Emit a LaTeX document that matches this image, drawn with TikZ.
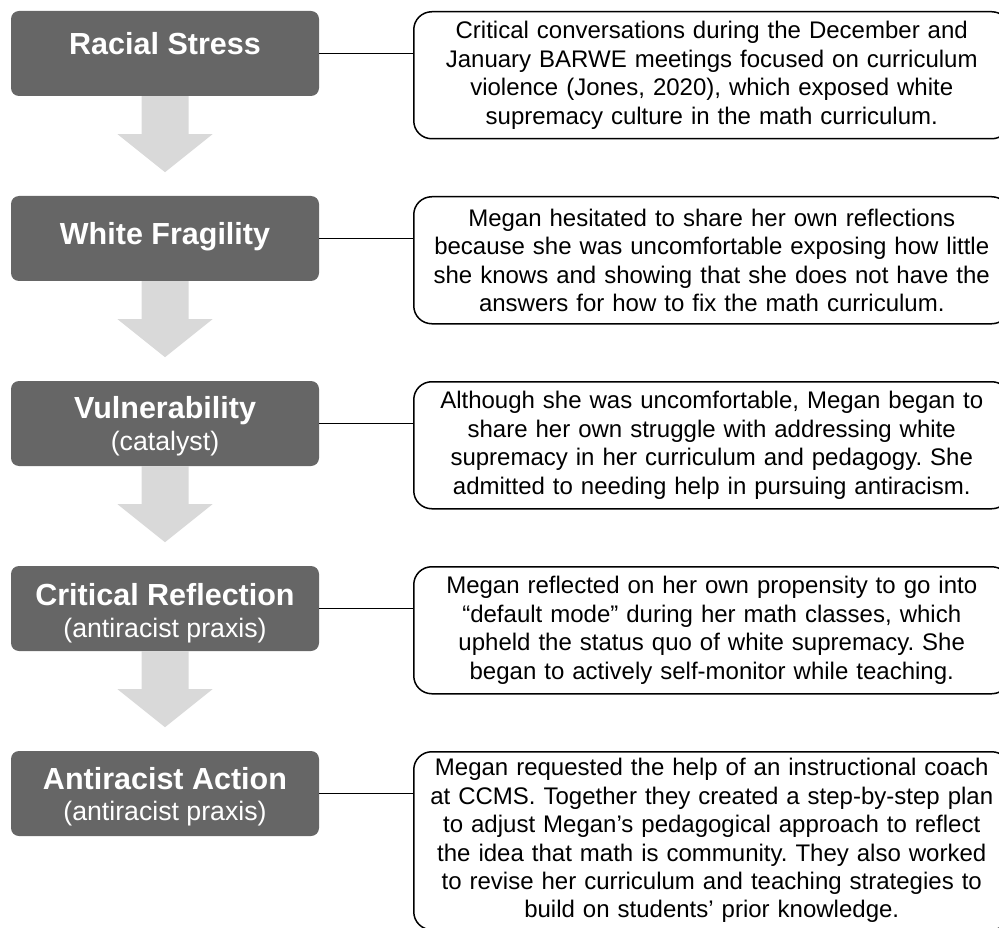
\documentclass[tikz,border=0pt]{standalone}
\usepackage{fontspec}
\setmainfont{Liberation Sans}
\definecolor{stagegray}{HTML}{666666}
\definecolor{flowgray}{HTML}{D9D9D9}
\frenchspacing
\begin{document}
\begin{tikzpicture}[x=1pt,y=-1pt,
  stage/.style={fill=stagegray, draw=none, rounded corners=8pt,
    minimum width=308pt, minimum height=85pt, inner sep=0pt},
  stagetitle/.style={anchor=base, text=white, inner sep=0pt,
    font=\fontsize{30.5}{34}\selectfont\bfseries},
  stagenote/.style={anchor=base, text=white, inner sep=0pt,
    font=\fontsize{26.7}{30}\selectfont},
  detail/.style={draw=black, line width=1.5pt, rounded corners=18pt,
    anchor=north west, minimum width=596pt, minimum height=127pt,
    text width=590pt, inner xsep=3pt, inner ysep=0pt, align=center,
    font=\fontsize{24}{28.4}\selectfont},
  link/.style={draw=black, line width=1.3pt},
  flowarrow/.style={fill=flowgray}
]
\useasboundingbox (0,0) rectangle (999,928);
\clip (0,0) rectangle (999,928);

% stage boxes on the left
\node[stage] (s1) at (165,53.5) {};
\node[stage] (s2) at (165,238.5) {};
\node[stage] (s3) at (165,423.5) {};
\node[stage] (s4) at (165,608.5) {};
\node[stage] (s5) at (165,793.5) {};

% wide down arrows between consecutive stages
\foreach \s in {s1,s2,s3,s4}
  \fill[flowarrow] (\s.south) ++(-23.5,0) -- ++(0,38) -- ++(-24,0)
    -- ++(47.5,38) -- ++(47.5,-38) -- ++(-24,0) -- ++(0,-38) -- cycle;

% stage titles
\node[stagetitle] (s1t) at (165,55) {Racial Stress};
\node[stagetitle] (s2t) at (165,245) {White Fragility};
\node[stagetitle] (s3t) at (165,418) {Vulnerability};
\node[stagenote]  (s3n) at (165,450) {(catalyst)};
\node[stagetitle] (s4t) at (165,605) {Critical Reflection};
\node[stagenote]  (s4n) at (165,637) {(antiracist praxis)};
\node[stagetitle] (s5t) at (165,789) {Antiracist Action};
\node[stagenote]  (s5n) at (165,820) {(antiracist praxis)};

% descriptions on the right
\node[detail] (d1) at (413,11) {Critical conversations during the December and\\
January BARWE meetings focused on curriculum\\
violence (Jones, 2020), which exposed white\\
supremacy culture in the math curriculum.};
\node[detail] (d2) at (413,196) {Megan hesitated to share her own reflections\\
because she was uncomfortable exposing how little\\
she knows and showing that she does not have the\\
answers for how to fix the math curriculum.};
\node[detail] (d3) at (413,381) {Although she was uncomfortable, Megan began to\\
share her own struggle with addressing white\\
supremacy in her curriculum and pedagogy. She\\
admitted to needing help in pursuing antiracism.};
\node[detail] (d4) at (413,566) {Megan reflected on her own propensity to go into\\
“default mode” during her math classes, which\\
upheld the status quo of white supremacy. She\\
began to actively self-monitor while teaching.};
\node[detail, minimum height=178pt] (d5) at (413,751) {Megan requested the help of an instructional coach\\
at CCMS. Together they created a step-by-step plan\\
to adjust Megan’s pedagogical approach to reflect\\
the idea that math is community. They also worked\\
to revise her curriculum and teaching strategies to\\
build on students’ prior knowledge.};

% connectors from each stage to its description
\foreach \i in {1,...,5}
  \draw[link] (s\i.east) -- (s\i.east -| d\i.west);
\end{tikzpicture}
\end{document}
